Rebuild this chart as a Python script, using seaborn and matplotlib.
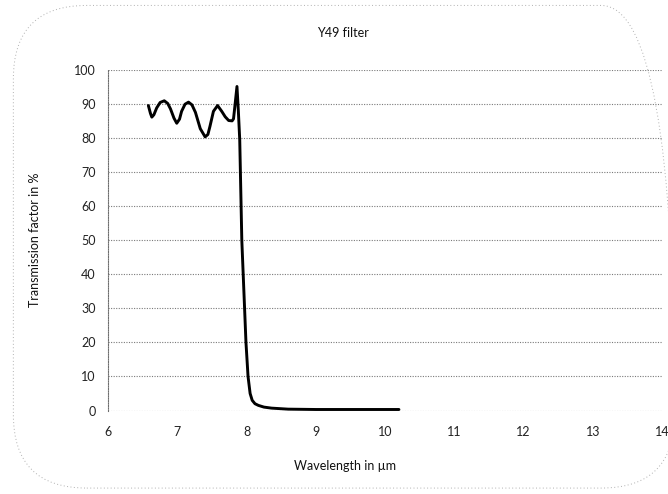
import numpy as np
import pandas as pd
import matplotlib
matplotlib.use("Agg")
import matplotlib.pyplot as plt
from matplotlib.patches import FancyBboxPatch
import seaborn as sns

# Curva de transmissão (comprimento de onda em µm, transmissão em %)
wavelength = [6.58, 6.61, 6.63, 6.66, 6.70, 6.75, 6.81, 6.86, 6.90, 6.95, 6.99,
              7.03, 7.06, 7.11, 7.16, 7.21, 7.26, 7.33, 7.40, 7.44, 7.47, 7.52,
              7.58, 7.64, 7.69, 7.74, 7.79, 7.81, 7.83, 7.86, 7.88, 7.90, 7.93,
              7.96, 7.99, 8.02, 8.05, 8.08, 8.12, 8.17, 8.25, 8.36, 8.6, 9.0,
              9.5, 10.2]
transmission = [89.6, 87.3, 86.2, 86.9, 88.9, 90.5, 91.0, 90.2, 88.6, 85.9, 84.4,
                85.6, 87.9, 90.0, 90.6, 89.8, 87.6, 82.8, 80.4, 81.1, 83.5, 87.9,
                89.6, 87.9, 86.3, 85.2, 85.1, 85.7, 89.4, 95.2, 88.0, 79.5, 50.0,
                35.0, 20.0, 10.0, 5.0, 3.0, 2.0, 1.5, 1.0, 0.7, 0.4, 0.3,
                0.3, 0.3]

x_ticks = [6, 7, 8, 9, 10, 11, 12, 13, 14]
y_ticks = [0, 10, 20, 30, 40, 50, 60, 70, 80, 90, 100]

df = pd.DataFrame({"wavelength": wavelength, "transmission": transmission})

sns.set_style("white")
plt.rcParams["font.family"] = ["Lato", "DejaVu Sans"]

fig = plt.figure(figsize=(6.68, 4.94), dpi=100)
ax = fig.add_axes([0.162, 0.169, 0.829, 0.689])

# moldura arredondada pontilhada em volta da figura
frame = FancyBboxPatch((0.02, 0.012), 0.99, 0.977,
                       boxstyle="round,pad=0,rounding_size=0.11",
                       transform=fig.transFigure, fill=False,
                       edgecolor="#b0b0b0", linewidth=0.7, linestyle=(0, (1, 2.5)),
                       mutation_aspect=668 / 494)
fig.patches.append(frame)

for yv in y_ticks:
    ax.axhline(yv, color="#7a7a7a", linewidth=0.8, linestyle=(0, (1, 1.3)), zorder=1)

sns.lineplot(data=df, x="wavelength", y="transmission", ax=ax,
             color="black", linewidth=2.1, zorder=3)

ax.set_xlim(6, 14)
ax.set_ylim(0, 100)
ax.set_xticks(x_ticks)
ax.set_yticks(y_ticks)
ax.tick_params(axis="both", labelsize=9, colors="#222222", length=3, width=0.6)
ax.tick_params(axis="x", pad=8)
ax.tick_params(axis="y", pad=6)

for side in ["top", "right", "bottom"]:
    ax.spines[side].set_visible(False)
ax.spines["left"].set_color("#6e6e6e")
ax.spines["left"].set_linestyle((0, (1, 1.2)))
ax.spines["left"].set_linewidth(0.8)

ax.set_xlabel("")
ax.set_ylabel("")
fig.text(0.513, 0.933, "Y49 filter", ha="center", va="center", fontsize=9, color="#111111")
fig.text(0.516, 0.057, "Wavelength in µm", ha="center", va="center", fontsize=9, color="#111111")
fig.text(0.052, 0.515, "Transmission factor in %", ha="center", va="center",
         rotation=90, fontsize=9, color="#111111")

fig.savefig("out.png", dpi=100, facecolor="white")
